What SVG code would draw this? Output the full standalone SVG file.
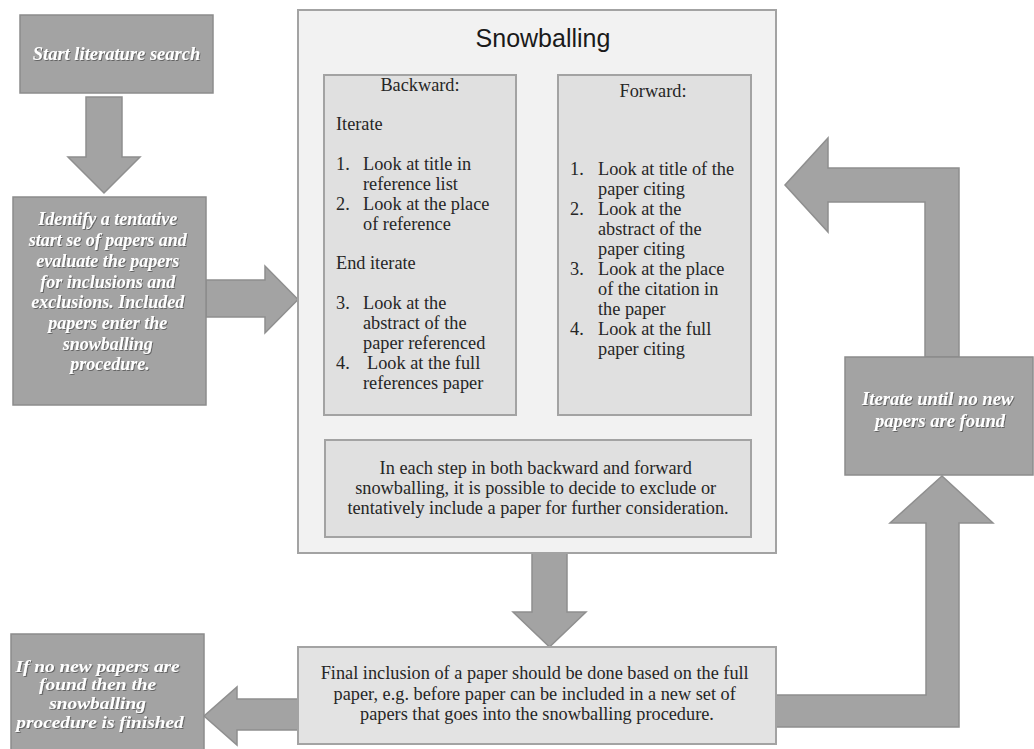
<svg xmlns="http://www.w3.org/2000/svg" width="1034" height="749" viewBox="0 0 1034 749">
  <defs>
    <filter id="shade" x="-10%" y="-10%" width="120%" height="130%">
      <feDropShadow dx="1" dy="1" stdDeviation="0.6" flood-color="#4a4a4a" flood-opacity="0.7"/>
    </filter>
    <style>
      .dark { fill: #a3a3a3; stroke: #8c8c8c; stroke-width: 1.5; }
      .arrow { fill: #a3a3a3; stroke: #8f8f8f; stroke-width: 1.5; stroke-linejoin: miter; }
      .outer { fill: #f2f2f2; stroke: #a3a3a3; stroke-width: 2; }
      .inner { fill: #e0e0e0; stroke: #a3a3a3; stroke-width: 2; }
      .final { fill: #e3e3e3; stroke: #a3a3a3; stroke-width: 2; }
      text { font-family: "Liberation Serif", "Times New Roman", serif; }
      .wt { font-weight: bold; font-style: italic; font-size: 18px; fill: #ffffff; text-anchor: middle; filter: url(#shade); }
      .bt { font-size: 18.3px; fill: #262626; }
      .mid { text-anchor: middle; }
      .title { font-family: "Liberation Sans", Arial, sans-serif; font-size: 25px; fill: #1a1a1a; text-anchor: middle; }
    </style>
  </defs>

  <rect width="1034" height="749" fill="#ffffff"/>

  <!-- block arrows between the steps -->
  <g id="connectors">
    <polygon class="arrow" points="86,97 122,97 122,157 140,157 104,193 68,157 86,157"/>
    <polygon class="arrow" points="206,280 265,280 265,266 298,299.5 265,333 265,317 206,317"/>
    <polygon class="arrow" points="532,553 567,553 567,612 586,612 549.5,647 513,612 532,612"/>
    <polygon class="arrow" points="298,699 237,699 237,687 204,716 237,745 237,730 298,730"/>
    <polygon class="arrow" points="776,695 926,695 926,523 890,523 942,476 993,523 959,523 959,727 776,727"/>
    <polygon class="arrow" points="925,357 925,202 828,202 828,232 785,185 828,138 828,168 959,168 959,357"/>
  </g>

  <g id="start">
    <rect class="dark" x="20" y="15" width="193" height="78"/>
    <text class="wt" x="116.5" y="60" style="font-size:18.5px">Start literature search</text>
  </g>

  <g id="identify">
    <rect class="dark" x="13" y="197" width="193" height="208"/>
    <text class="wt">
      <tspan x="110" y="225">Identify a tentative</tspan>
      <tspan x="110" y="246">start se of papers and</tspan>
      <tspan x="110" y="267">evaluate the papers</tspan>
      <tspan x="110" y="288">for inclusions and</tspan>
      <tspan x="110" y="308">exclusions. Included</tspan>
      <tspan x="110" y="329">papers enter the</tspan>
      <tspan x="110" y="350">snowballing</tspan>
      <tspan x="110" y="370">procedure.</tspan>
    </text>
  </g>

  <g id="snowballing">
    <rect class="outer" x="298" y="10" width="478" height="543"/>
    <text class="title" x="543" y="47">Snowballing</text>
  </g>

  <g id="backward">
    <rect class="inner" x="324" y="75" width="192" height="340"/>
    <text class="bt mid" x="420" y="91">Backward:</text>
    <text class="bt">
      <tspan x="336" y="130">Iterate</tspan>
      <tspan x="336" y="170">1.</tspan>
      <tspan x="363" y="170">Look at title in</tspan>
      <tspan x="363" y="190">reference list</tspan>
      <tspan x="336" y="210">2.</tspan>
      <tspan x="363" y="210">Look at the place</tspan>
      <tspan x="363" y="230">of reference</tspan>
      <tspan x="336" y="269">End iterate</tspan>
      <tspan x="336" y="309">3.</tspan>
      <tspan x="363" y="309">Look at the</tspan>
      <tspan x="363" y="329">abstract of the</tspan>
      <tspan x="363" y="349">paper referenced</tspan>
      <tspan x="336" y="369">4.</tspan>
      <tspan x="367" y="369">Look at the full</tspan>
      <tspan x="363" y="389">references paper</tspan>
    </text>
  </g>

  <g id="forward">
    <rect class="inner" x="558" y="75" width="193" height="340"/>
    <text class="bt mid" x="653" y="97">Forward:</text>
    <text class="bt">
      <tspan x="570" y="175">1.</tspan>
      <tspan x="598" y="175">Look at title of the</tspan>
      <tspan x="598" y="195">paper citing</tspan>
      <tspan x="570" y="215">2.</tspan>
      <tspan x="598" y="215">Look at the</tspan>
      <tspan x="598" y="235">abstract of the</tspan>
      <tspan x="598" y="255">paper citing</tspan>
      <tspan x="570" y="275">3.</tspan>
      <tspan x="598" y="275">Look at the place</tspan>
      <tspan x="598" y="295">of the citation in</tspan>
      <tspan x="598" y="315">the paper</tspan>
      <tspan x="570" y="335">4.</tspan>
      <tspan x="598" y="335">Look at the full</tspan>
      <tspan x="598" y="355">paper citing</tspan>
    </text>
  </g>

  <g id="decision-note">
    <rect class="inner" x="325" y="440" width="426" height="97"/>
    <text class="bt mid">
      <tspan x="538" y="474">In each step in both backward and forward</tspan>
      <tspan x="538" y="494">snowballing, it is possible to decide to exclude or</tspan>
      <tspan x="538" y="514">tentatively include a paper for further consideration.</tspan>
    </text>
  </g>

  <g id="final-inclusion">
    <rect class="final" x="298" y="647" width="478" height="97"/>
    <text class="bt mid">
      <tspan x="537" y="679">Final inclusion of a paper should be done based on the full</tspan>
      <tspan x="537" y="700">paper, e.g.  before paper can be included in a new set of</tspan>
      <tspan x="537" y="720">papers that goes into the snowballing procedure.</tspan>
    </text>
  </g>

  <g id="iterate">
    <rect class="dark" x="845" y="357" width="188" height="118"/>
    <text class="wt" style="font-size:18.6px">
      <tspan x="940" y="405">Iterate until no new</tspan>
      <tspan x="940" y="427">papers are found</tspan>
    </text>
  </g>

  <g id="finished">
    <rect class="dark" x="11" y="634" width="193" height="125"/>
    <!-- the lines here are set tight, so the type is widened instead of enlarged -->
    <text class="wt" style="font-size:16.8px" transform="translate(100 0) scale(1.15 1) translate(-100 0)">
      <tspan x="100" y="672">If no new papers are</tspan>
      <tspan x="100" y="690.5">found then the</tspan>
      <tspan x="100" y="709">snowballing</tspan>
      <tspan x="100" y="728">procedure is finished</tspan>
    </text>
  </g>
</svg>
